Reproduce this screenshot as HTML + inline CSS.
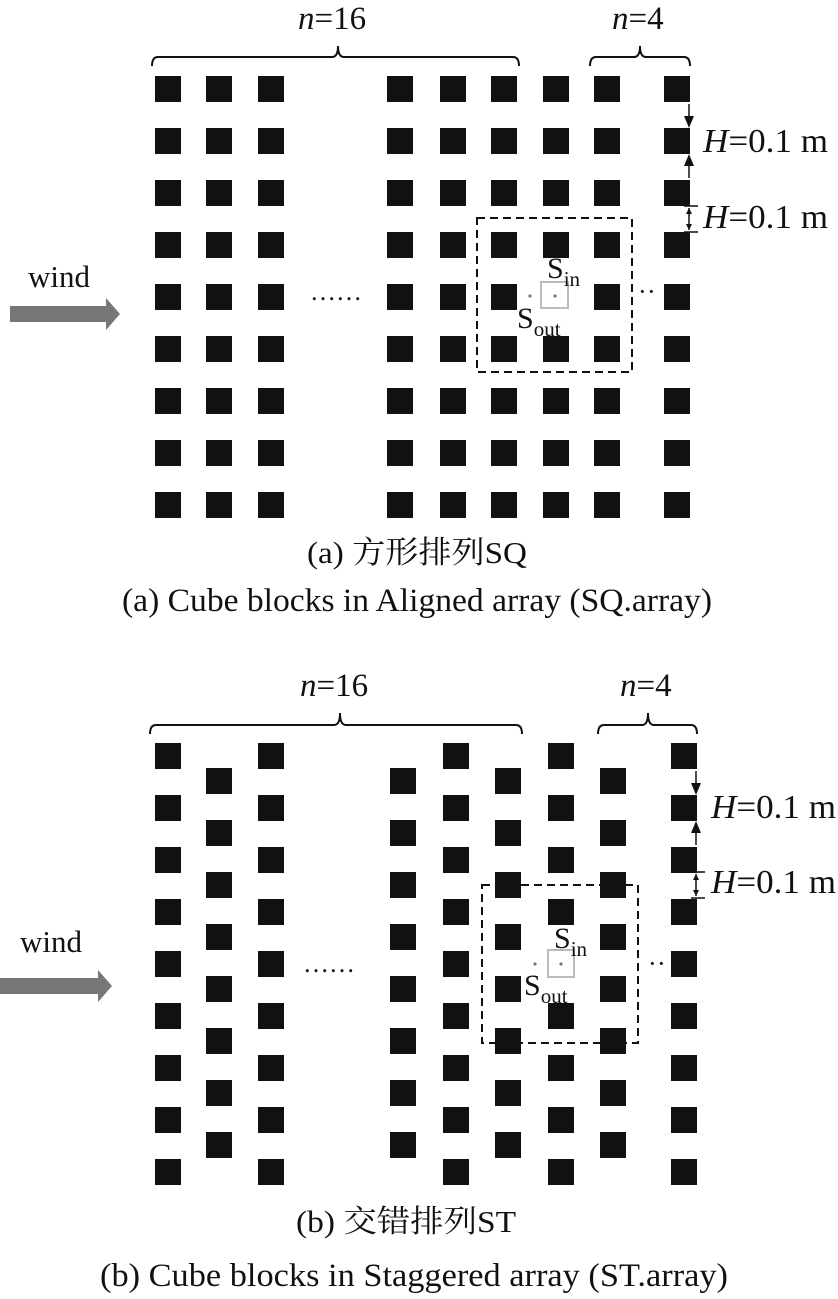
<!DOCTYPE html>
<html><head><meta charset="utf-8"><style>
html,body{margin:0;padding:0;background:#fff}
svg{display:block}
text{font-family:"Liberation Serif","Noto Serif CJK SC",serif;fill:#111}
</style></head><body>
<svg width="838" height="1299" viewBox="0 0 838 1299" xmlns="http://www.w3.org/2000/svg">
<defs>
<pattern id="pa" patternUnits="userSpaceOnUse" x="0" y="76" width="26" height="52"><rect x="0" y="0" width="26" height="26" fill="#111"/></pattern>
<pattern id="pb1" patternUnits="userSpaceOnUse" x="0" y="743" width="26" height="52"><rect x="0" y="0" width="26" height="26" fill="#111"/></pattern>
<pattern id="pb2" patternUnits="userSpaceOnUse" x="0" y="768" width="26" height="52"><rect x="0" y="0" width="26" height="26" fill="#111"/></pattern>
</defs>
<!-- Top figure -->
<g fill="url(#pa)">
<g transform="translate(155,0)"><rect x="0" y="76" width="26" height="442"/></g>
<g transform="translate(206,0)"><rect x="0" y="76" width="26" height="442"/></g>
<g transform="translate(258,0)"><rect x="0" y="76" width="26" height="442"/></g>
<g transform="translate(387,0)"><rect x="0" y="76" width="26" height="442"/></g>
<g transform="translate(440,0)"><rect x="0" y="76" width="26" height="442"/></g>
<g transform="translate(491,0)"><rect x="0" y="76" width="26" height="442"/></g>
<g transform="translate(543,0)"><rect x="0" y="76" width="26" height="442"/></g>
<g transform="translate(594,0)"><rect x="0" y="76" width="26" height="442"/></g>
<g transform="translate(664,0)"><rect x="0" y="76" width="26" height="442"/></g>
</g>
<rect x="541" y="282" width="30" height="30" fill="#fff"/>
<g fill="none" stroke="#111" stroke-width="2">
<path d="M152 66 Q152 57 158 57 L332 57 Q338 57 338 46 Q338 57 344 57 L513 57 Q519 57 519 66"/>
<path d="M590 66 Q590 57 596 57 L634 57 Q640 57 640 46 Q640 57 646 57 L684 57 Q690 57 690 66"/>
<rect x="477" y="218" width="155" height="154" stroke-dasharray="8,5"/>
<line x1="689" y1="104" x2="689" y2="124" stroke-width="1.5"/>
<line x1="689" y1="158" x2="689" y2="178" stroke-width="1.5"/>
<line x1="689" y1="208" x2="689" y2="230" stroke-width="1.5"/>
<line x1="684" y1="206" x2="698" y2="206" stroke-width="1.5"/>
<line x1="684" y1="232" x2="698" y2="232" stroke-width="1.5"/>
</g>
<path d="M684 116 L689 128 L694 116 Z M684 166 L689 154 L694 166 Z M686 214 L689 208 L692 214 Z M686 224 L689 230 L692 224 Z" fill="#111"/>
<rect x="541" y="282" width="27" height="26" fill="none" stroke="#bbb" stroke-width="2"/>
<circle cx="555" cy="296" r="1.6" fill="#777"/><circle cx="530" cy="296" r="1.6" fill="#777"/>
<text x="298" y="29" font-size="33"><tspan font-style="italic">n</tspan>=16</text>
<text x="612" y="29" font-size="33"><tspan font-style="italic">n</tspan>=4</text>
<text x="703" y="152" font-size="34" textLength="125" lengthAdjust="spacingAndGlyphs"><tspan font-style="italic">H</tspan>=0.1 m</text>
<text x="703" y="228" font-size="34" textLength="125" lengthAdjust="spacingAndGlyphs"><tspan font-style="italic">H</tspan>=0.1 m</text>
<text x="547" y="278" font-size="30">S<tspan font-size="21" dy="8">in</tspan></text>
<text x="517" y="328" font-size="30">S<tspan font-size="21" dy="8">out</tspan></text>
<text x="310" y="300" font-size="26">……</text>
<text x="638" y="300" font-size="26">·</text><text x="647" y="300" font-size="26">·</text>
<text x="28" y="287" font-size="31">wind</text>
<path d="M10 306 L106 306 L106 298 L120 314 L106 330 L106 322 L10 322 Z" fill="#777"/>
<text x="307" y="563" font-size="31" textLength="220" lengthAdjust="spacingAndGlyphs">(a) 方形排列SQ</text>
<text x="122" y="611" font-size="33" textLength="590" lengthAdjust="spacingAndGlyphs">(a) Cube blocks in Aligned array (SQ.array)</text>

<!-- Bottom figure -->
<g fill="url(#pb1)">
<g transform="translate(155,0)"><rect x="0" y="743" width="26" height="442"/></g>
<g transform="translate(258,0)"><rect x="0" y="743" width="26" height="442"/></g>
<g transform="translate(443,0)"><rect x="0" y="743" width="26" height="442"/></g>
<g transform="translate(548,0)"><rect x="0" y="743" width="26" height="442"/></g>
<g transform="translate(671,0)"><rect x="0" y="743" width="26" height="442"/></g>
</g>
<g fill="url(#pb2)">
<g transform="translate(206,0)"><rect x="0" y="768" width="26" height="390"/></g>
<g transform="translate(390,0)"><rect x="0" y="768" width="26" height="390"/></g>
<g transform="translate(495,0)"><rect x="0" y="768" width="26" height="390"/></g>
<g transform="translate(600,0)"><rect x="0" y="768" width="26" height="390"/></g>
</g>
<rect x="546" y="949" width="30" height="30" fill="#fff"/>
<g fill="none" stroke="#111" stroke-width="2">
<path d="M150 734 Q150 725 156 725 L334 725 Q340 725 340 713 Q340 725 346 725 L516 725 Q522 725 522 734"/>
<path d="M598 734 Q598 725 604 725 L642 725 Q648 725 648 713 Q648 725 654 725 L691 725 Q697 725 697 734"/>
<rect x="482" y="885" width="156" height="158" stroke-dasharray="8,5"/>
<line x1="696" y1="771" x2="696" y2="791" stroke-width="1.5"/>
<line x1="696" y1="825" x2="696" y2="845" stroke-width="1.5"/>
<line x1="696" y1="874" x2="696" y2="896" stroke-width="1.5"/>
<line x1="691" y1="872" x2="705" y2="872" stroke-width="1.5"/>
<line x1="691" y1="898" x2="705" y2="898" stroke-width="1.5"/>
</g>
<path d="M691 783 L696 795 L701 783 Z M691 833 L696 821 L701 833 Z M693 880 L696 874 L699 880 Z M693 890 L696 896 L699 890 Z" fill="#111"/>
<rect x="548" y="950" width="26" height="27" fill="none" stroke="#bbb" stroke-width="2"/>
<circle cx="561" cy="964" r="1.6" fill="#777"/><circle cx="535" cy="964" r="1.6" fill="#777"/>
<text x="300" y="696" font-size="33"><tspan font-style="italic">n</tspan>=16</text>
<text x="620" y="696" font-size="33"><tspan font-style="italic">n</tspan>=4</text>
<text x="711" y="818" font-size="34" textLength="125" lengthAdjust="spacingAndGlyphs"><tspan font-style="italic">H</tspan>=0.1 m</text>
<text x="711" y="893" font-size="34" textLength="125" lengthAdjust="spacingAndGlyphs"><tspan font-style="italic">H</tspan>=0.1 m</text>
<text x="554" y="948" font-size="30">S<tspan font-size="21" dy="8">in</tspan></text>
<text x="524" y="995" font-size="30">S<tspan font-size="21" dy="8">out</tspan></text>
<text x="303" y="972" font-size="26">……</text>
<text x="648" y="972" font-size="26">·</text><text x="657" y="972" font-size="26">·</text>
<text x="20" y="952" font-size="31">wind</text>
<path d="M0 978 L98 978 L98 970 L112 986 L98 1002 L98 994 L0 994 Z" fill="#777"/>
<text x="296" y="1232" font-size="31" textLength="220" lengthAdjust="spacingAndGlyphs">(b) 交错排列ST</text>
<text x="100" y="1286" font-size="33" textLength="628" lengthAdjust="spacingAndGlyphs">(b) Cube blocks in Staggered array (ST.array)</text>
</svg>
</body></html>
